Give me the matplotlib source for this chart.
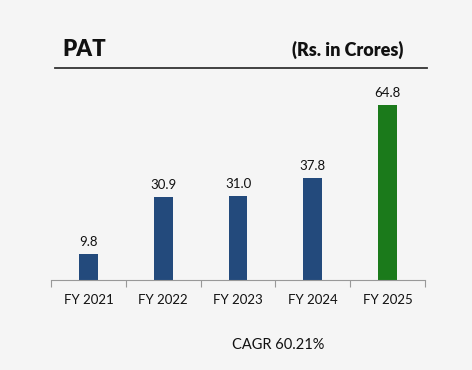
import matplotlib.pyplot as plt

years = ["FY 2021", "FY 2022", "FY 2023", "FY 2024", "FY 2025"]
pat = [9.8, 30.9, 31.0, 37.8, 64.8]
colors = ["#234a7c", "#234a7c", "#234a7c", "#234a7c", "#1b7a1b"]
cagr = "CAGR 60.21%"

plt.rcParams["font.family"] = ["Lato", "DejaVu Sans"]
bg = "#f5f5f5"

fig = plt.figure(figsize=(4.72, 3.7), dpi=100, facecolor=bg)
ax = fig.add_axes([51 / 472, 1 - 280 / 370, 374 / 472, 189 / 370])
ax.set_facecolor(bg)

x = range(len(years))
bars = ax.bar(x, pat, width=0.25, color=colors)
for b, v in zip(bars, pat):
    ax.text(b.get_x() + b.get_width() / 2, v + 2.2, f"{v:.1f}",
            ha="center", va="bottom", fontsize=9.5, color="#111111")

ax.set_xlim(-0.5, len(years) - 0.5)
ax.set_ylim(0, 70)
ax.set_xticks([i - 0.5 for i in range(len(years) + 1)], minor=False)
ax.set_xticklabels([])
ax.tick_params(axis="x", length=5, color="#999999", direction="out")
ax.set_xticks(list(x), minor=True)
ax.set_xticklabels(years, minor=True, fontsize=9.5, color="#111111")
ax.tick_params(axis="x", which="minor", length=0, pad=10)
ax.set_yticks([])
for s in ["top", "right", "left"]:
    ax.spines[s].set_visible(False)
ax.spines["bottom"].set_color("#999999")

fig.text(62 / 472, 1 - 50 / 370, "PAT", fontsize=16, fontweight="heavy",
         va="center", ha="left", color="#111111")
fig.text(403 / 472, 1 - 50 / 370, "(Rs. in Crores)", fontsize=13,
         fontweight="heavy", va="center", ha="right", color="#111111")
fig.add_artist(plt.Line2D([55 / 472, 427 / 472], [1 - 68 / 370, 1 - 68 / 370],
                          color="#333333", lw=1.3))
fig.text(278 / 472, 1 - 345 / 370, cagr, fontsize=10.5, ha="center",
         va="center", color="#111111")

fig.savefig("out.png", dpi=100, facecolor=bg)
